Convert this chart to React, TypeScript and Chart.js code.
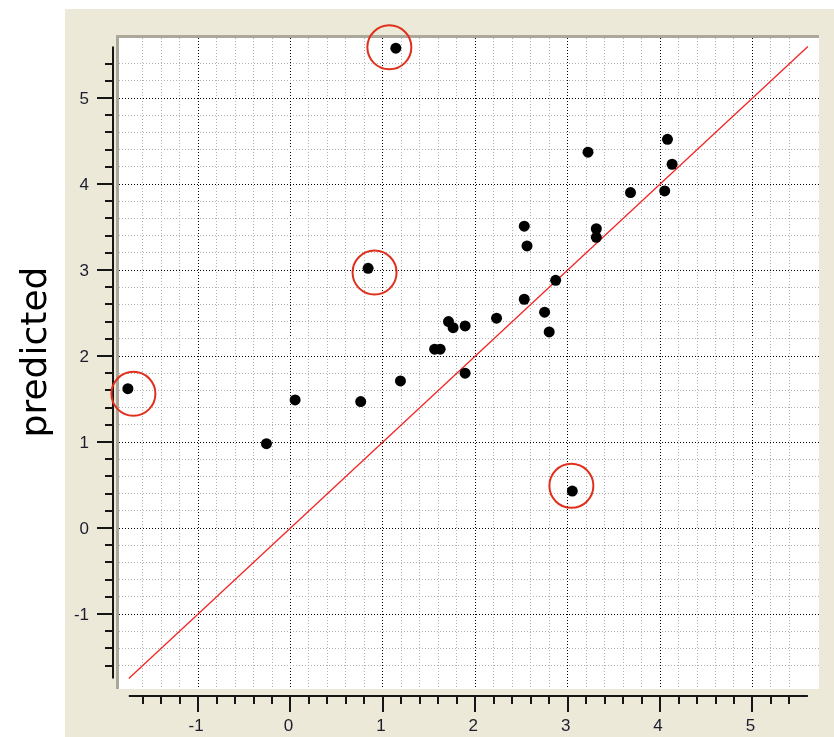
import React, { useEffect, useRef } from "react";
import { Chart, registerables } from "chart.js";

Chart.register(...registerables);

// Observed (x) vs predicted (y) values
const MEASURED = [
  1.14, 0.84, -1.76, 3.05, -0.26, 0.05, 0.76, 1.19, 1.56, 1.62, 1.71, 1.76, 1.89, 1.89,
  2.23, 2.53, 2.56, 2.53, 2.75, 2.8, 2.87, 3.22, 3.31, 3.31, 3.68, 4.05, 4.08, 4.13,
];
const PREDICTED = [
  5.58, 3.02, 1.62, 0.43, 0.98, 1.49, 1.47, 1.71, 2.08, 2.08, 2.4, 2.33, 2.35, 1.8,
  2.44, 3.51, 3.28, 2.66, 2.51, 2.28, 2.88, 4.37, 3.48, 3.38, 3.9, 3.92, 4.52, 4.23,
];

// Ringed outliers (centres of the red rings)
const OUTLIER_X = [1.07, 0.91, -1.7, 3.04];
const OUTLIER_Y = [5.59, 2.97, 1.56, 0.49];

// Axis labels and extent of the drawn axes / identity line
const TICK_LABELS = [-1, 0, 1, 2, 3, 4, 5];
const AXIS_MIN = -1.75;
const AXIS_MAX = 5.6;
const MINOR_STEP = 0.2;
const Y_TITLE = "predicted";

const lo = Math.floor(AXIS_MIN / MINOR_STEP + 1e-9) + 1;
const hi = Math.ceil(AXIS_MAX / MINOR_STEP - 1e-9) - 1;
const GRID_VALUES: number[] = [];
for (let i = lo; i <= hi; i++) GRID_VALUES.push(Math.round(i * MINOR_STEP * 10) / 10);

const isMajor = (v: number) => Math.abs(v - Math.round(v)) < 1e-6;

const frame = {
  id: "frame",
  beforeDraw(chart: any) {
    const { ctx, chartArea, width, height } = chart;
    const xs = chart.scales.x;
    const ys = chart.scales.y;
    ctx.save();
    ctx.fillStyle = "#ffffff";
    ctx.fillRect(0, 0, width, height);
    // window background
    ctx.fillStyle = "#ece9d8";
    ctx.fillRect(65, 9, width - 65, height - 9);
    // sunken plot frame
    ctx.fillStyle = "#aca899";
    ctx.fillRect(chartArea.left - 3, chartArea.top - 3, chartArea.right - chartArea.left + 3, 3);
    ctx.fillRect(chartArea.left - 3, chartArea.top - 3, 3, chartArea.bottom - chartArea.top + 3);
    ctx.fillStyle = "#ffffff";
    ctx.fillRect(chartArea.left, chartArea.top, chartArea.right - chartArea.left, chartArea.bottom - chartArea.top);

    // detached axes
    ctx.strokeStyle = "#151515";
    ctx.lineWidth = 2;
    const yAxisX = chartArea.left - 6;
    const xAxisY = chartArea.bottom + 7;
    const yTop = ys.getPixelForValue(AXIS_MAX);
    const yBot = ys.getPixelForValue(AXIS_MIN);
    const xL = xs.getPixelForValue(AXIS_MIN);
    const xR = xs.getPixelForValue(AXIS_MAX);
    ctx.beginPath();
    ctx.moveTo(yAxisX, yTop);
    ctx.lineTo(yAxisX, yBot);
    ctx.moveTo(xL, xAxisY);
    ctx.lineTo(xR, xAxisY);
    for (const v of GRID_VALUES) {
      const len = isMajor(v) ? 16 : 8;
      const py = Math.round(ys.getPixelForValue(v));
      ctx.moveTo(yAxisX, py);
      ctx.lineTo(yAxisX - len, py);
      const px = Math.round(xs.getPixelForValue(v));
      ctx.moveTo(px, xAxisY);
      ctx.lineTo(px, xAxisY + len);
    }
    ctx.stroke();

    ctx.fillStyle = "#1c1c2c";
    ctx.font = '17px "Liberation Sans"';
    ctx.textAlign = "right";
    ctx.textBaseline = "middle";
    for (const t of TICK_LABELS) {
      ctx.fillText(String(t), yAxisX - 24, ys.getPixelForValue(t) + 1);
    }
    ctx.textAlign = "center";
    ctx.textBaseline = "top";
    for (const t of TICK_LABELS) {
      ctx.fillText(String(t), xs.getPixelForValue(t) - 2, xAxisY + 22);
    }

    // y-axis title
    ctx.fillStyle = "#000000";
    ctx.font = '36px "DejaVu Sans"';
    ctx.translate(46, 352);
    ctx.rotate(-Math.PI / 2);
    ctx.textAlign = "center";
    ctx.textBaseline = "alphabetic";
    ctx.fillText(Y_TITLE, 0, 0);
    ctx.restore();
  },
};

export default function App() {
  const ref = useRef<HTMLCanvasElement | null>(null);

  useEffect(() => {
    if (!ref.current) return;
    const points = MEASURED.map((x, i) => ({ x, y: PREDICTED[i] }));
    const rings = OUTLIER_X.map((x, i) => ({ x, y: OUTLIER_Y[i] }));
    const gridScale = (min: number, max: number, position: string) => ({
      type: "linear",
      position,
      min,
      max,
      afterBuildTicks: (scale: any) => {
        scale.ticks = GRID_VALUES.map((v) => ({ value: v }));
      },
      ticks: { display: false },
      border: { display: false, dash: [1, 2] },
      grid: {
        drawTicks: false,
        lineWidth: 1,
        color: (c: any) => (c.tick && isMajor(c.tick.value) ? "#000000" : "#b0b0b0"),
      },
    });

    const chart = new Chart(ref.current, {
      type: "scatter",
      data: {
        datasets: [
          {
            type: "line",
            data: [
              { x: AXIS_MIN, y: AXIS_MIN },
              { x: AXIS_MAX, y: AXIS_MAX },
            ],
            borderColor: "#f42424",
            borderWidth: 1.3,
            pointRadius: 0,
            order: 3,
          } as any,
          {
            data: points,
            backgroundColor: "#000000",
            borderWidth: 0,
            pointRadius: 5.5,
            order: 2,
          },
          {
            data: rings,
            backgroundColor: "rgba(0,0,0,0)",
            borderColor: "#e0301c",
            borderWidth: 2,
            pointRadius: 22,
            clip: false as any,
            order: 1,
          },
        ],
      },
      options: {
        animation: false,
        responsive: false,
        devicePixelRatio: 1,
        layout: { autoPadding: false, padding: { left: 119, top: 38, right: 15, bottom: 48 } },
        plugins: { legend: { display: false }, tooltip: { enabled: false } },
        events: [],
        scales: {
          x: gridScale(-1.856, 5.72, "bottom") as any,
          y: gridScale(-1.872, 5.698, "left") as any,
        },
      },
      plugins: [frame],
    });
    return () => chart.destroy();
  }, []);

  return (
    <div style={{ position: "absolute", left: 0, top: 0, width: 834, height: 737 }}>
      <canvas ref={ref} width={834} height={737} style={{ display: "block" }} />
    </div>
  );
}
